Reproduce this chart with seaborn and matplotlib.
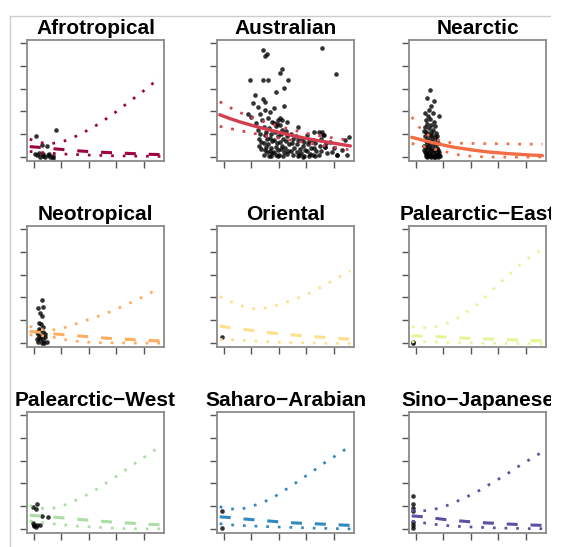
import matplotlib
matplotlib.use("Agg")
import matplotlib.pyplot as plt
from matplotlib.lines import Line2D
from matplotlib.patches import Rectangle
import seaborn as sns

# ---------------------------------------------------------------- data
regions = ["Afrotropical", "Australian", "Nearctic",
           "Neotropical", "Oriental", "Palearctic\u2212East",
           "Palearctic\u2212West", "Saharo\u2212Arabian", "Sino\u2212Japanese"]
region_colors = ["#9E0142", "#D53E4F", "#F46D43", "#FDAE61", "#FEE08B",
                 "#E6F598", "#ABDDA4", "#3288BD", "#5E4FA2"]
significant = [False, True, True, False, False, False, False, False, False]

# x positions at which the fitted curves and their bands are tabulated
curve_x = [-1.5, 2, 6, 10, 14, 18, 22, 26, 30, 34, 38, 42, 46]

fit_afrotropical = [4.5, 4.2, 3.7, 3.3, 2.8, 2.5, 2.2, 1.95, 1.75, 1.55, 1.35, 1.15, 1.0]
hi_afrotropical = [7.8, 6.3, 5.8, 6.5, 8.3, 10.7, 13.3, 16.5, 19.9, 23.6, 27.2, 31.0, 35.0]
lo_afrotropical = [2.4, 2.0, 1.6, 1.3, 1.1, 0.9, 0.7, 0.6, 0.5, 0.4, 0.3, 0.3, 0.2]

fit_australian = [18.5, 16.9, 15.3, 13.9, 12.6, 11.4, 10.2, 9.1, 8.1, 7.2, 6.4, 5.6, 4.8]
hi_australian = [24.2, 21.8, 19.4, 17.4, 15.7, 14.2, 12.8, 11.5, 10.4, 9.4, 8.6, 7.9, 7.3]
lo_australian = [13.4, 12.5, 11.5, 10.5, 9.6, 8.7, 7.8, 7.0, 6.2, 5.4, 4.6, 3.8, 3.0]

fit_nearctic = [8.6, 7.5, 6.3, 5.2, 4.2, 3.5, 2.8, 2.2, 1.8, 1.4, 1.1, 0.8, 0.6]
hi_nearctic = [17.5, 11.8, 8.2, 6.6, 6.1, 5.9, 5.9, 5.8, 5.8, 5.7, 5.6, 5.6, 5.6]
lo_nearctic = [5.9, 4.8, 3.6, 2.6, 1.2, 0.5, 0.15, 0.0, -0.1, -0.1, -0.1, -0.1, 0.0]

fit_neotropical = [5.0, 4.7, 4.1, 3.7, 3.2, 2.9, 2.5, 2.1, 1.85, 1.55, 1.3, 1.05, 0.85]
hi_neotropical = [7.3, 5.9, 5.5, 6.3, 7.8, 9.5, 11.1, 12.8, 14.9, 17.0, 19.2, 21.7, 24.3]
lo_neotropical = [3.5, 3.3, 2.8, 1.7, 0.9, 0.45, 0.2, 0.1, 0.0, 0.0, -0.1, -0.1, -0.1]

fit_oriental = [7.4, 6.7, 6.1, 5.5, 4.8, 4.3, 3.8, 3.4, 3.0, 2.6, 2.3, 1.9, 1.6]
hi_oriental = [20.4, 18.4, 16.4, 15.0, 15.1, 16.1, 17.6, 19.3, 21.1, 23.6, 26.3, 29.0, 31.6]
lo_oriental = [1.5, 1.5, 1.2, 0.9, 0.6, 0.4, 0.2, 0.1, 0.0, -0.1, -0.2, -0.2, -0.2]

fit_pal_east = [3.1, 3.0, 2.8, 2.6, 2.3, 2.1, 1.9, 1.75, 1.6, 1.4, 1.25, 1.05, 0.9]
hi_pal_east = [7.1, 6.6, 6.8, 7.9, 10.0, 13.1, 16.5, 21.1, 25.7, 30.1, 34.5, 38.2, 41.3]
lo_pal_east = [0.4, 0.6, 0.4, 0.3, 0.2, 0.0, -0.1, -0.2, -0.2, -0.3, -0.3, -0.3, -0.3]

fit_pal_west = [6.0, 5.7, 5.3, 4.9, 4.4, 4.0, 3.6, 3.2, 2.9, 2.6, 2.3, 2.0, 1.8]
hi_pal_west = [10.2, 9.1, 8.8, 9.9, 11.9, 14.1, 16.8, 19.9, 23.1, 26.5, 29.8, 32.9, 36.5]
lo_pal_west = [3.5, 2.8, 2.4, 1.8, 1.4, 1.0, 0.8, 0.5, 0.3, 0.1, 0.0, 0.0, 0.0]

fit_saharo = [5.3, 5.0, 4.5, 4.1, 3.7, 3.3, 2.9, 2.6, 2.4, 2.2, 2.0, 1.75, 1.55]
hi_saharo = [9.7, 8.8, 8.6, 9.9, 11.5, 13.8, 16.9, 20.1, 23.4, 26.7, 30.2, 33.1, 36.5]
lo_saharo = [2.3, 1.8, 1.5, 1.3, 1.1, 0.9, 0.75, 0.6, 0.45, 0.3, 0.2, 0.1, 0.0]

fit_sino = [5.7, 5.4, 4.8, 4.2, 3.7, 3.3, 2.9, 2.6, 2.4, 2.1, 1.9, 1.7, 1.55]
hi_sino = [8.1, 7.8, 8.4, 9.6, 11.6, 13.8, 16.1, 19.0, 21.8, 24.8, 28.0, 30.9, 33.8]
lo_sino = [3.4, 2.8, 2.1, 1.6, 1.2, 0.95, 0.75, 0.55, 0.4, 0.3, 0.2, 0.1, 0.1]

# observed points per region
pts_afrotropical_x = [0.6, 8.0, 2.8, 4.6, 0.4, 1.2, 2.2, 3.2, 4.0, 5.0, 5.8, 6.8, 1.9, 3.4, 5.6, 7.0]
pts_afrotropical_y = [9.3, 11.8, 5.2, 4.7, 1.2, 0.7, 0.0, 0.3, 0.0, 0.7, 0.0, -0.3, 1.8, 1.2, 1.2, 0.3]

pts_australian_x = [
    14.3, 15.5, 14.9, 35.6, 40.9, 21.3, 20.4, 9.4, 14.3, 15.9, 23.2, 22.0, 18.9, 11.2,
    10.6, 14.3, 14.9, 12.4, 18.3, 22.0, 8.8, 10.0, 13.0, 14.9, 16.7, 19.8, 21.0, 22.8,
    19.3, 13.7, 11.5, 16.0, 17.5, 20.5,
    12.5, 13.2, 12.8, 13.5, 12.9, 13.6,
    14.6, 15.2, 14.8, 15.6, 14.5, 15.3, 15.0, 15.7, 14.7,
    16.4, 17.1, 16.6, 17.4, 16.2, 17.0, 16.8, 17.6, 16.5, 17.3,
    18.2, 19.1, 18.6, 19.5, 18.4, 19.3, 18.8, 19.7, 18.3, 19.0, 19.6,
    20.3, 21.2, 20.7, 21.5, 20.4, 21.1, 20.9, 21.7, 20.2, 21.4,
    22.4, 23.1, 22.7, 23.5, 22.3, 23.3, 22.9,
    24.5, 25.2, 24.8, 25.6, 24.3, 25.0,
    26.3, 27.1, 26.7, 27.5, 26.4, 27.2, 26.9,
    28.4, 29.1, 28.7, 29.5, 28.2, 29.3, 28.9,
    30.3, 31.1, 30.7, 31.5, 30.2, 31.3, 30.9,
    32.4, 33.1, 32.7, 33.5, 32.3, 33.2,
    34.6, 35.2, 34.8, 35.4, 34.5,
    36.5, 37.2, 36.8, 37.5,
    38.6, 40.2, 39.4, 41.3,
    45.4, 44.0, 43.0, 44.6,
    32.6, 35.6, 36.0, 36.8, 41.0, 27.0]
pts_australian_y = [
    47.0, 45.3, 44.1, 47.7, 36.2, 38.7, 36.8, 33.9, 33.6, 33.6, 33.6, 30.2, 28.5, 27.3,
    23.6, 25.5, 24.1, 21.9, 21.6, 22.2, 19.0, 17.5, 19.0, 20.4, 19.7, 16.1, 16.4, 15.3,
    14.6, 16.1, 15.0, 17.0, 15.5, 17.0,
    12.0, 10.0, 8.0, 6.5, 5.0, 3.5,
    13.0, 11.0, 9.5, 8.0, 6.0, 4.5, 3.0, 2.0, 1.0,
    12.5, 10.0, 8.5, 7.0, 5.5, 4.0, 2.5, 1.5, 0.5, 0.2,
    15.0, 13.5, 11.0, 9.0, 7.5, 6.0, 4.5, 3.0, 2.0, 1.0, 0.3,
    14.0, 12.0, 10.0, 8.0, 6.5, 5.0, 3.5, 2.0, 0.8, 0.2,
    11.5, 9.0, 7.0, 5.5, 4.0, 2.5, 1.2,
    10.0, 8.0, 6.0, 4.0, 2.5, 1.0,
    9.0, 7.5, 5.5, 3.5, 2.0, 0.8, 0.2,
    8.0, 6.5, 5.0, 3.0, 1.5, 0.5, 0.1,
    9.5, 7.0, 5.5, 4.0, 2.5, 1.2, 0.3,
    7.5, 6.0, 4.0, 2.5, 1.0, 0.3,
    11.0, 8.0, 5.0, 2.5, 0.8,
    9.5, 6.0, 4.4, 1.5,
    6.5, 4.0, 2.0, 0.7,
    8.8, 7.3, 3.0, 1.0,
    11.0, 11.0, 9.5, 4.4, 0.7, 13.0]

pts_nearctic_x = [
    5.1, 3.9, 6.7, 5.5, 4.6, 3.4, 8.3, 4.3, 6.1, 5.0, 3.6, 6.5, 4.2, 5.6, 7.0, 3.3, 4.8,
    6.2, 5.4, 3.8, 7.2, 4.4, 6.0, 3.2, 5.2, 6.8, 4.0, 5.8, 7.6, 3.5, 4.9, 6.4, 8.0, 3.9,
    5.3, 7.0, 3.1, 4.5, 6.0, 7.7, 3.6, 5.0, 6.6, 8.2, 4.1, 5.6, 7.2, 3.3, 4.7, 6.2, 7.9,
    3.8, 5.3, 6.8, 8.4, 4.3, 5.9, 7.4, 3.5, 5.0, 6.5, 8.0, 4.0, 5.6, 7.1, 8.6, 3.0, 8.5,
    7.5, 3.0]
pts_nearctic_y = [
    29.3, 25.9, 24.4, 22.2, 20.7, 19.2, 17.8, 17.8, 19.2, 16.5, 16.0, 15.5, 14.5, 14.0,
    13.5, 13.0, 12.5, 12.0, 11.0, 11.0, 10.5, 10.0, 9.8, 9.0, 9.0, 8.8, 8.0, 7.8, 7.5,
    7.0, 6.8, 6.5, 6.2, 5.8, 5.5, 5.2, 5.0, 4.5, 4.3, 4.0, 3.8, 3.5, 3.2, 3.0, 2.8, 2.5,
    2.2, 2.0, 1.8, 1.6, 1.4, 1.2, 1.0, 0.9, 0.8, 0.6, 0.5, 0.4, 0.3, 0.2, 0.1, 0.1, 0.0,
    0.0, 0.0, 0.3, 3.0, 2.0, 9.0, 11.5]

pts_neotropical_x = [2.8, 1.6, 3.2, 2.2, 2.8, 1.8, 2.7, 3.2, 2.0, 1.2, 3.4, 1.6, 2.8, 4.0,
                     1.0, 2.2, 3.4, 4.6, 1.6, 2.8, 3.6, 1.9, 2.4, 4.0]
pts_neotropical_y = [18.9, 15.2, 15.7, 13.3, 11.8, 8.9, 8.3, 7.1, 5.9, 4.9, 4.9, 3.8, 3.0, 2.7,
                     1.9, 1.5, 1.2, 0.4, 0.4, 0.0, 0.0, 2.7, 5.6, 4.1]

pts_oriental_x = [-0.8]
pts_oriental_y = [2.5]

pts_pal_east_x = [-1.2, -1.0]
pts_pal_east_y = [-0.2, 0.2]

pts_pal_west_x = [1.2, -0.2, 0.7, 2.8, 5.2, -0.2, 0.1, 1.0, 2.4, 0.1, 0.7]
pts_pal_west_y = [10.8, 9.6, 8.6, 5.6, 5.2, 2.7, 1.9, 1.5, 1.5, 1.2, 0.7]

pts_saharo_x = [-0.6, -0.8]
pts_saharo_y = [7.8, 0.4]

pts_sino_x = [-1.2, -1.2, -1.2, -1.2, -1.2, -1.2, -1.2]
pts_sino_y = [14.5, 10.8, 9.3, 7.8, 3.0, 1.9, 0.4]

# ---------------------------------------------------------------- grouping
fits = [fit_afrotropical, fit_australian, fit_nearctic, fit_neotropical, fit_oriental,
        fit_pal_east, fit_pal_west, fit_saharo, fit_sino]
his = [hi_afrotropical, hi_australian, hi_nearctic, hi_neotropical, hi_oriental,
       hi_pal_east, hi_pal_west, hi_saharo, hi_sino]
los = [lo_afrotropical, lo_australian, lo_nearctic, lo_neotropical, lo_oriental,
       lo_pal_east, lo_pal_west, lo_saharo, lo_sino]
pts_x = [pts_afrotropical_x, pts_australian_x, pts_nearctic_x, pts_neotropical_x,
         pts_oriental_x, pts_pal_east_x, pts_pal_west_x, pts_saharo_x, pts_sino_x]
pts_y = [pts_afrotropical_y, pts_australian_y, pts_nearctic_y, pts_neotropical_y,
         pts_oriental_y, pts_pal_east_y, pts_pal_west_y, pts_saharo_y, pts_sino_y]

# ---------------------------------------------------------------- figure
sns.set_theme(style="white")
plt.rcParams["font.family"] = ["Liberation Sans", "DejaVu Sans"]

W, H = 566, 547
fig = plt.figure(figsize=(W / 100, H / 100), dpi=100)

# thin frame lines along the top and left of the page
frame_col = "#cccccc"
fig.add_artist(Line2D([10 / W, 553 / W], [1 - 16 / H, 1 - 16 / H],
                      transform=fig.transFigure, color=frame_col, lw=1))
fig.add_artist(Line2D([10 / W, 10 / W], [0, 1 - 16 / H],
                      transform=fig.transFigure, color=frame_col, lw=1))

col_left = [27, 217, 409]
row_top = [40, 226, 412]
pw, ph = 137, 121

dotted = (0, (1, 3.3))
dashed = (0, (3.6, 4.2))

for i, name in enumerate(regions):
    r, c = divmod(i, 3)
    ax = fig.add_axes([col_left[c] / W, (H - row_top[r] - ph) / H, pw / W, ph / H])
    col = region_colors[i]

    sns.scatterplot(x=pts_x[i], y=pts_y[i], ax=ax, color="black", s=11,
                    alpha=0.8, linewidth=0, zorder=2)
    sns.lineplot(x=curve_x, y=his[i], ax=ax, color=col, lw=1.95,
                 linestyle=dotted, zorder=3)
    sns.lineplot(x=curve_x, y=los[i], ax=ax, color=col, lw=1.95,
                 linestyle=dotted, zorder=3)
    sns.lineplot(x=curve_x, y=fits[i], ax=ax, color=col,
                 lw=2.4 if significant[i] else 2.2,
                 linestyle="-" if significant[i] else dashed, zorder=4)

    ax.set_xlim(-2.5, 47.3)
    ax.set_ylim(-1.8, 51.3)
    ax.set_xticks([0, 10, 20, 30, 40])
    ax.set_yticks([0, 10, 20, 30, 40, 50])
    ax.set_xticklabels([])
    ax.set_yticklabels([])
    ax.set(xlabel=None, ylabel=None)
    ax.tick_params(axis="both", which="major", direction="out", length=5,
                   width=1.0, color="#555555", left=True, bottom=True)
    for sp in ax.spines.values():
        sp.set_visible(True)
        sp.set_color("#8a8a8a")
        sp.set_linewidth(1.3)
    ax.set_title(name, fontsize=15, fontweight="bold", color="black", pad=4.3)

# the page ends just right of the last column; titles running past it are cut
fig.add_artist(Rectangle((551 / W, 0), 1 - 551 / W, 1, transform=fig.transFigure,
                         facecolor="white", edgecolor="none", zorder=10))

fig.savefig("out.png", dpi=100)
